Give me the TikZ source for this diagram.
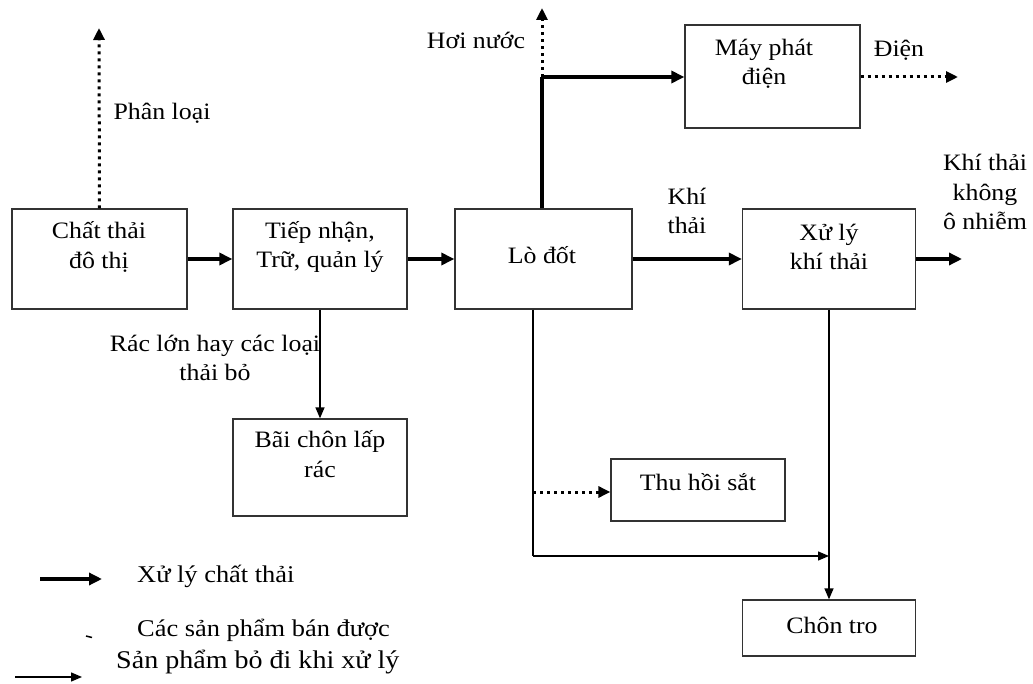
\documentclass[tikz,border=0pt]{standalone}
\usepackage{fontspec}
\setmainfont[FakeStretch=1.1]{Liberation Serif}
\usetikzlibrary{arrows.meta,calc}
\begin{document}
\begin{tikzpicture}[x=1pt,y=-1pt,
  box/.style={draw=black!80,line width=1.3pt,inner sep=0pt},
  txt/.style={align=center,inner sep=0pt,font=\fontsize{23.5}{29.5}\selectfont},
  thickarrow/.style={line width=3.6pt,-{Triangle[length=13pt,width=12pt]}},
  thickline/.style={line width=3.6pt},
  thinarrow/.style={line width=1.4pt,-{Triangle[length=11pt,width=9pt]}},
  thinline/.style={line width=1.4pt},
  dotarrow/.style={line width=3pt,dash pattern=on 3pt off 4pt,-{Triangle[length=12pt,width=11pt]}}]
\useasboundingbox (0,0) rectangle (1033,684);
% boxes
\node[box,minimum width=175pt,minimum height=100pt] (A) at (99.5,259) {};
\node[box,minimum width=174pt,minimum height=100pt] (B) at (320,259) {};
\node[box,minimum width=177pt,minimum height=100pt] (C) at (543.5,259) {};
\node[box,minimum width=173pt,minimum height=100pt] (D) at (829,259) {};
\node[box,minimum width=175pt,minimum height=103pt] (E) at (772.5,76.5) {};
\node[box,minimum width=174pt,minimum height=97pt] (F) at (320,467.5) {};
\node[box,minimum width=174pt,minimum height=62pt] (G) at (698,490) {};
\node[box,minimum width=173pt,minimum height=56pt] (H) at (829,628) {};
% box texts
\node[txt] (tA) at (99,247) {Chất thải\\đô thị};
\node[txt] (tB) at (320,247) {Tiếp nhận,\\Trữ, quản lý};
\node[txt] (tC) at (542,255) {Lò đốt};
\node[txt] (tD) at (829,247) {Xử lý\\khí thải};
\node[txt] (tE) at (764,64) {Máy phát\\điện};
\node[txt] (tF) at (320,454) {Bãi chôn lấp\\rác};
\node[txt] (tG) at (698,482) {Thu hồi sắt};
\node[txt] (tH) at (832,625) {Chôn tro};
% coordinates
\coordinate (pA) at (99,28);
\coordinate (j1) at (542,77);
\coordinate (hn) at (542,8);
\coordinate (dien) at (958,77);
\coordinate (out) at (962,262);
\coordinate (c1) at (533,556);
\coordinate (c2) at (829,556);
\coordinate (c3) at (533,492);
% connectors
\draw[dotarrow] (A.north) -- (pA);
\draw[thickarrow] (A.east) -- (B.west);
\draw[thickarrow] (B.east) -- (C.west);
\draw[thinarrow] (B.south) -- (F.north);
\draw[thickline] (j1 |- C.north) -- (j1);
\draw[thickarrow] (j1) -- (E.west |- j1);
\draw[dotarrow] (j1) -- (hn);
\draw[dotarrow] (E.east |- dien) -- (dien);
\draw[thickarrow] (C.east) -- (D.west);
\draw[thickarrow] (D.east) -- (out |- D.east);
\draw[thinline] (C.south -| c1) -- (c1);
\draw[thinarrow] (c1) -- (c2);
\draw[dotarrow] (c3) -- (G.west |- c3);
\draw[thinarrow] (D.south) -- (H.north);
% labels
\node[txt] (lPL) at (162,113) {Phân loại};
\node[txt] (lHN) at (476,40) {Hơi nước};
\node[txt] (lD) at (899,50) {Điện};
\node[txt] (lKT) at (687,211) {Khí\\thải};
\node[txt] (lKO) at (985,192) {Khí thải\\không\\ô nhiễm};
\node[txt] (lRL) at (215,358) {Rác lớn hay các loại\\thải bỏ};
% legend
\coordinate (g1a) at (40,579);
\coordinate (g1b) at (102,579);
\draw[thickarrow] (g1a) -- (g1b);
\node[txt,anchor=west,font=\fontsize{24}{29}\selectfont] (lg1) at (137,576) {Xử lý chất thải};
\begin{scope}
\clip (0,600) rectangle (1033,641);
\node[txt,anchor=west,font=\fontsize{24}{29}\selectfont] (lg2) at (137,630) {Các sản phẩm bán được};
\end{scope}
\coordinate (m1) at (86,636);
\coordinate (m2) at (92,637.5);
\draw[line width=1.5pt] (m1) -- (m2);
\node[txt,anchor=west,font=\fontsize{25.5}{30}\selectfont] (lg3) at (116,662) {Sản phẩm bỏ đi khi xử lý};
\coordinate (g3a) at (15,677);
\coordinate (g3b) at (82,677);
\draw[thinarrow] (g3a) -- (g3b);
\end{tikzpicture}
\end{document}
